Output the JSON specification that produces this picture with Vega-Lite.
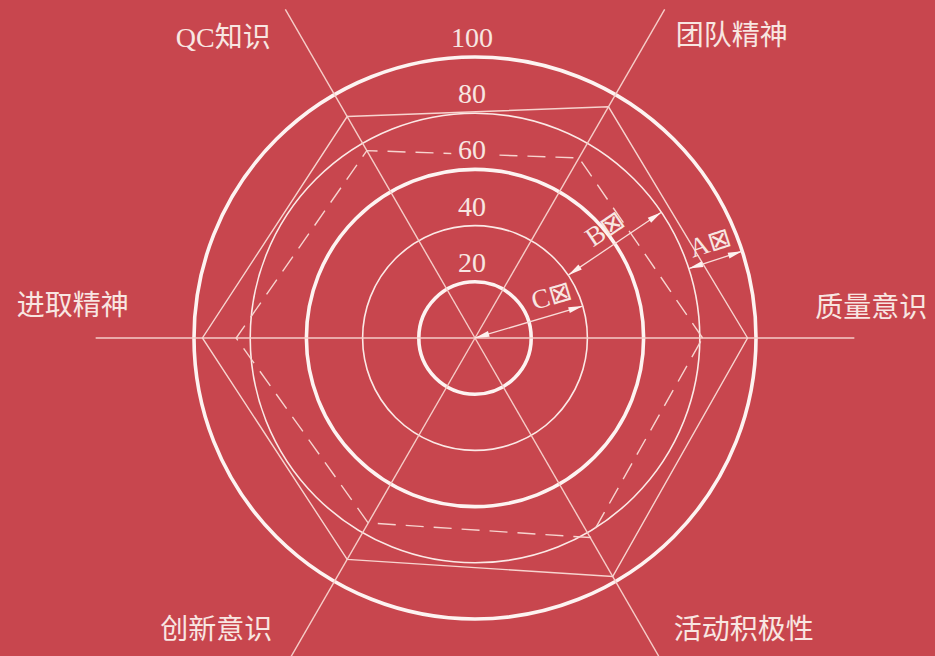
{
  "$schema": "https://vega.github.io/schema/vega-lite/v6.json",
  "width": 935,
  "height": 656,
  "autosize": {"type": "none"},
  "padding": 0,
  "background": "#c8464e",
  "config": {"view": {"stroke": null}},
  "datasets": {
    "axes": [
      {"axis": "质量意识", "k": 0},
      {"axis": "团队精神", "k": 1},
      {"axis": "QC知识", "k": 2},
      {"axis": "进取精神", "k": 3},
      {"axis": "创新意识", "k": 4},
      {"axis": "活动积极性", "k": 5}
    ],
    "rings": [
      {"score": 20}, {"score": 40}, {"score": 60}, {"score": 80}, {"score": 100}
    ],
    "scores": [
      {"series": "评价1", "axis": "质量意识", "k": 0, "score": 97},
      {"series": "评价1", "axis": "团队精神", "k": 1, "score": 95},
      {"series": "评价1", "axis": "QC知识", "k": 2, "score": 91},
      {"series": "评价1", "axis": "进取精神", "k": 3, "score": 97},
      {"series": "评价1", "axis": "创新意识", "k": 4, "score": 91},
      {"series": "评价1", "axis": "活动积极性", "k": 5, "score": 98},
      {"series": "评价2", "axis": "质量意识", "k": 0, "score": 81},
      {"series": "评价2", "axis": "团队精神", "k": 1, "score": 74},
      {"series": "评价2", "axis": "QC知识", "k": 2, "score": 77},
      {"series": "评价2", "axis": "进取精神", "k": 3, "score": 85},
      {"series": "评价2", "axis": "创新意识", "k": 4, "score": 76},
      {"series": "评价2", "axis": "活动积极性", "k": 5, "score": 82}
    ],
    "annots": [
      {"label": "A⊠", "r1": 80, "r2": 100, "deg": 18},
      {"label": "B⊠", "r1": 40, "r2": 80, "deg": 34},
      {"label": "C⊠", "r1": 0, "r2": 40, "deg": 16.5}
    ]
  },
  "encoding": {
    "x": {"field": "px", "type": "quantitative", "axis": null, "scale": {"domain": [-169.04, 163.7], "nice": false, "zero": false}},
    "y": {"field": "py", "type": "quantitative", "axis": null, "scale": {"domain": [-113.17, 120.28], "nice": false, "zero": false}}
  },
  "layer": [
    {
      "data": {"name": "rings"},
      "transform": [
        {"filter": {"field": "score", "oneOf": [40, 80]}},
        {"calculate": "0", "as": "px"},
        {"calculate": "0", "as": "py"}
      ],
      "mark": {"type": "point", "shape": "circle", "filled": false, "color": "#fbe9e6", "strokeWidth": 1.6, "opacity": 1},
      "encoding": {
        "size": {"field": "score", "type": "quantitative", "legend": null, "scale": {"type": "pow", "exponent": 2, "domain": [0, 100], "range": [0, 315844]}}
      }
    },
    {
      "data": {"name": "rings"},
      "transform": [
        {"filter": {"field": "score", "oneOf": [20, 60, 100]}},
        {"calculate": "0", "as": "px"},
        {"calculate": "0", "as": "py"}
      ],
      "mark": {"type": "point", "shape": "circle", "filled": false, "color": "#fdf3f1", "strokeWidth": 3.6, "opacity": 1},
      "encoding": {
        "size": {"field": "score", "type": "quantitative", "legend": null, "scale": {"type": "pow", "exponent": 2, "domain": [0, 100], "range": [0, 315844]}}
      }
    },
    {
      "data": {"name": "axes"},
      "transform": [
        {"calculate": "0", "as": "px"},
        {"calculate": "0", "as": "py"},
        {"calculate": "135*cos(datum.k*PI/3)", "as": "px2"},
        {"calculate": "135*sin(datum.k*PI/3)", "as": "py2"}
      ],
      "mark": {"type": "rule", "color": "#f6cdc8", "strokeWidth": 1.4},
      "encoding": {"x2": {"field": "px2"}, "y2": {"field": "py2"}}
    },
    {
      "data": {"name": "scores"},
      "transform": [
        {"filter": "datum.series == '评价1'"},
        {"calculate": "datum.score*cos(datum.k*PI/3)", "as": "px"},
        {"calculate": "datum.score*sin(datum.k*PI/3)", "as": "py"}
      ],
      "mark": {"type": "line", "interpolate": "linear-closed", "color": "#f7d4cf", "strokeWidth": 1.4},
      "encoding": {"order": {"field": "k", "type": "quantitative"}}
    },
    {
      "data": {"name": "scores"},
      "transform": [
        {"filter": "datum.series == '评价2'"},
        {"calculate": "datum.score*cos(datum.k*PI/3)", "as": "px"},
        {"calculate": "datum.score*sin(datum.k*PI/3)", "as": "py"}
      ],
      "mark": {"type": "line", "interpolate": "linear-closed", "color": "#f7d4cf", "strokeWidth": 1.4, "strokeDash": [18, 10]},
      "encoding": {"order": {"field": "k", "type": "quantitative"}}
    },
    {
      "data": {"name": "annots"},
      "transform": [
        {"calculate": "datum.r1*cos(datum.deg*PI/180)", "as": "px"},
        {"calculate": "datum.r1*sin(datum.deg*PI/180)", "as": "py"},
        {"calculate": "datum.r2*cos(datum.deg*PI/180)", "as": "px2"},
        {"calculate": "datum.r2*sin(datum.deg*PI/180)", "as": "py2"}
      ],
      "mark": {"type": "rule", "color": "#f9dcd8", "strokeWidth": 1.3},
      "encoding": {"x2": {"field": "px2"}, "y2": {"field": "py2"}}
    },
    {
      "data": {"name": "annots"},
      "transform": [
        {"fold": ["r1", "r2"], "as": ["end", "r"]},
        {"calculate": "datum.r*cos(datum.deg*PI/180)", "as": "px"},
        {"calculate": "datum.r*sin(datum.deg*PI/180)", "as": "py"},
        {"calculate": "datum.end == 'r1' ? 180 - datum.deg : 360 - datum.deg", "as": "ang"}
      ],
      "mark": {"type": "point", "shape": "M0,0L-2.4,-0.5L-2.4,0.5Z", "filled": true, "color": "#fdf1ef", "size": 144, "opacity": 1, "strokeWidth": 0},
      "encoding": {"angle": {"field": "ang", "type": "quantitative", "scale": null}}
    },
    {
      "data": {"name": "rings"},
      "transform": [
        {"filter": "datum.score == 60"},
        {"calculate": "0", "as": "px"},
        {"calculate": "datum.score", "as": "py"}
      ],
      "mark": {"type": "text", "font": "Liberation Serif", "fontSize": 28, "dy": -17, "dx": -4, "baseline": "middle", "align": "center", "stroke": "#c8464e", "strokeWidth": 14, "color": "#c8464e"},
      "encoding": {"text": {"field": "score", "type": "quantitative"}}
    },
    {
      "data": {"name": "rings"},
      "transform": [
        {"calculate": "0", "as": "px"},
        {"calculate": "datum.score", "as": "py"}
      ],
      "mark": {"type": "text", "font": "Liberation Serif", "fontSize": 28, "dy": -18, "dx": -3, "baseline": "middle", "align": "center", "color": "#f8e6e2"},
      "encoding": {"text": {"field": "score", "type": "quantitative"}}
    },
    {
      "data": {"name": "axes"},
      "transform": [
        {"filter": "datum.k == 0"},
        {"calculate": "135*cos(datum.k*PI/3)", "as": "px"},
        {"calculate": "135*sin(datum.k*PI/3)", "as": "py"}
      ],
      "mark": {"type": "text", "font": "Liberation Serif, Noto Sans CJK SC", "fontSize": 28, "dx": 17, "dy": -29, "align": "center", "baseline": "middle", "color": "#f8e6e2"},
      "encoding": {"text": {"field": "axis"}}
    },
    {
      "data": {"name": "axes"},
      "transform": [
        {"filter": "datum.k == 1"},
        {"calculate": "135*cos(datum.k*PI/3)", "as": "px"},
        {"calculate": "135*sin(datum.k*PI/3)", "as": "py"}
      ],
      "mark": {"type": "text", "font": "Liberation Serif, Noto Sans CJK SC", "fontSize": 28, "dx": 67, "dy": 28, "align": "center", "baseline": "middle", "color": "#f8e6e2"},
      "encoding": {"text": {"field": "axis"}}
    },
    {
      "data": {"name": "axes"},
      "transform": [
        {"filter": "datum.k == 2"},
        {"calculate": "135*cos(datum.k*PI/3)", "as": "px"},
        {"calculate": "135*sin(datum.k*PI/3)", "as": "py"}
      ],
      "mark": {"type": "text", "font": "Liberation Serif, Noto Sans CJK SC", "fontSize": 28, "dx": -62, "dy": 30, "align": "center", "baseline": "middle", "color": "#f8e6e2"},
      "encoding": {"text": {"field": "axis"}}
    },
    {
      "data": {"name": "axes"},
      "transform": [
        {"filter": "datum.k == 3"},
        {"calculate": "135*cos(datum.k*PI/3)", "as": "px"},
        {"calculate": "135*sin(datum.k*PI/3)", "as": "py"}
      ],
      "mark": {"type": "text", "font": "Liberation Serif, Noto Sans CJK SC", "fontSize": 28, "dx": -23, "dy": -31, "align": "center", "baseline": "middle", "color": "#f8e6e2"},
      "encoding": {"text": {"field": "axis"}}
    },
    {
      "data": {"name": "axes"},
      "transform": [
        {"filter": "datum.k == 4"},
        {"calculate": "135*cos(datum.k*PI/3)", "as": "px"},
        {"calculate": "135*sin(datum.k*PI/3)", "as": "py"}
      ],
      "mark": {"type": "text", "font": "Liberation Serif, Noto Sans CJK SC", "fontSize": 28, "dx": -69, "dy": -36, "align": "center", "baseline": "middle", "color": "#f8e6e2"},
      "encoding": {"text": {"field": "axis"}}
    },
    {
      "data": {"name": "axes"},
      "transform": [
        {"filter": "datum.k == 5"},
        {"calculate": "135*cos(datum.k*PI/3)", "as": "px"},
        {"calculate": "135*sin(datum.k*PI/3)", "as": "py"}
      ],
      "mark": {"type": "text", "font": "Liberation Serif, Noto Sans CJK SC", "fontSize": 28, "dx": 79, "dy": -36, "align": "center", "baseline": "middle", "color": "#f8e6e2"},
      "encoding": {"text": {"field": "axis"}}
    },
    {
      "data": {"name": "annots"},
      "transform": [
        {"filter": "datum.r1 > 0"},
        {"calculate": "(datum.r1+datum.r2)/2*cos(datum.deg*PI/180)", "as": "px"},
        {"calculate": "(datum.r1+datum.r2)/2*sin(datum.deg*PI/180)", "as": "py"},
        {"calculate": "360 - datum.deg", "as": "ta"}
      ],
      "mark": {"type": "text", "font": "Liberation Serif, DejaVu Sans", "fontSize": 27, "dy": -17, "align": "center", "baseline": "middle", "color": "#f8e6e2"},
      "encoding": {"text": {"field": "label"}, "angle": {"field": "ta", "type": "quantitative", "scale": null}}
    },
    {
      "data": {"name": "annots"},
      "transform": [
        {"filter": "datum.r1 == 0"},
        {"calculate": "(datum.r1+datum.r2)/2*cos(datum.deg*PI/180)", "as": "px"},
        {"calculate": "(datum.r1+datum.r2)/2*sin(datum.deg*PI/180)", "as": "py"},
        {"calculate": "360 - datum.deg", "as": "ta"}
      ],
      "mark": {"type": "text", "font": "Liberation Serif, DejaVu Sans", "fontSize": 27, "dx": 29, "dy": -18, "align": "center", "baseline": "middle", "color": "#f8e6e2"},
      "encoding": {"text": {"field": "label"}, "angle": {"field": "ta", "type": "quantitative", "scale": null}}
    }
  ]
}
